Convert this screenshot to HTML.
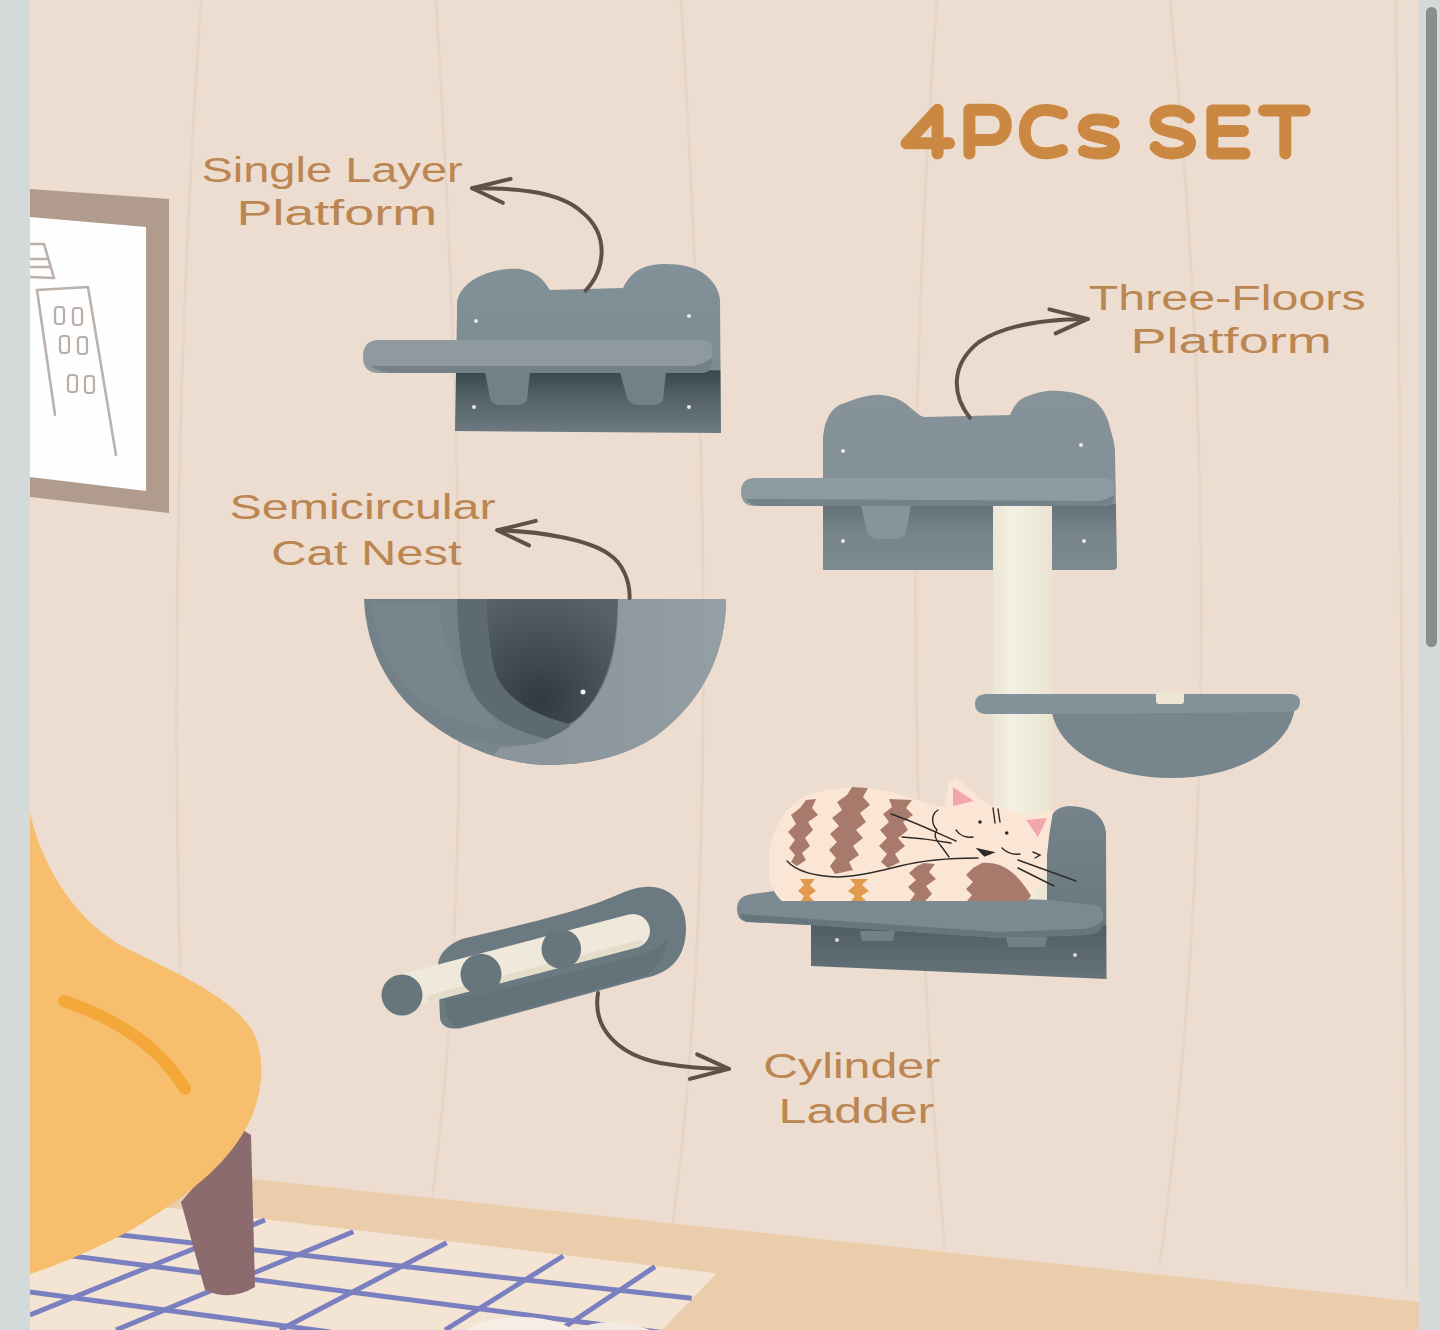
<!DOCTYPE html>
<html>
<head>
<meta charset="utf-8">
<style>
html,body{margin:0;padding:0;width:1440px;height:1330px;overflow:hidden;background:#d3dad9;}
svg{display:block;position:absolute;left:0;top:0;}
text{font-family:"Liberation Sans",sans-serif;}
</style>
</head>
<body>
<svg width="1440" height="1330" viewBox="0 0 1440 1330">
<defs>
<clipPath id="nestClip"><path d="M364 599 L726 599 C726 650 705 700 656 736 C620 760 580 765 544 765 C500 763 455 745 420 715 C390 690 366 650 364 599 Z"/></clipPath>
<radialGradient id="nestDark" cx="540" cy="700" r="110" gradientUnits="userSpaceOnUse">
<stop offset="0" stop-color="#323a40"/><stop offset="0.5" stop-color="#444e55"/><stop offset="1" stop-color="#566168"/>
</radialGradient>
<linearGradient id="sisal" x1="0" x2="1" y1="0" y2="0">
<stop offset="0" stop-color="#ebe6d5"/><stop offset="0.35" stop-color="#f4f0e4"/><stop offset="1" stop-color="#e9e3d0"/>
</linearGradient>
<linearGradient id="panelTop2" x1="0" x2="0" y1="390" y2="570" gradientUnits="userSpaceOnUse">
<stop offset="0" stop-color="#87939a"/><stop offset="0.63" stop-color="#838f96"/><stop offset="0.64" stop-color="#657178"/><stop offset="0.8" stop-color="#78848b"/><stop offset="1" stop-color="#7e8a91"/>
</linearGradient>
<linearGradient id="panelBot" x1="0" x2="0" y1="806" y2="979" gradientUnits="userSpaceOnUse">
<stop offset="0" stop-color="#76838a"/><stop offset="0.685" stop-color="#6a777e"/><stop offset="0.69" stop-color="#515d64"/><stop offset="1" stop-color="#67737a"/>
</linearGradient>
<linearGradient id="panelTop1" x1="0" x2="0" y1="264" y2="434" gradientUnits="userSpaceOnUse">
<stop offset="0" stop-color="#829097"/><stop offset="0.62" stop-color="#7d8b92"/><stop offset="0.63" stop-color="#3a474e"/><stop offset="0.8" stop-color="#566369"/><stop offset="1" stop-color="#6e7b82"/>
</linearGradient>
<linearGradient id="rimGrad" x1="540" x2="730" y1="0" y2="0" gradientUnits="userSpaceOnUse">
<stop offset="0" stop-color="#8a969c"/><stop offset="0.6" stop-color="#8f9ba1"/><stop offset="1" stop-color="#95a0a6"/>
</linearGradient>
<clipPath id="main"><rect x="30" y="0" width="1389" height="1330"/></clipPath>
</defs>
<!-- side bars -->
<rect x="0" y="0" width="1440" height="1330" fill="#d3dad9"/>
<g clip-path="url(#main)">
<!-- wall -->
<rect x="30" y="0" width="1389" height="1330" fill="#ecddd0"/>
<!-- wall lines -->
<g stroke="#e2cebd" stroke-width="2.5" fill="none" opacity="0.55">
<path d="M201 0 Q160 600 188 1180"/>
<path d="M436 0 Q485 800 432 1200"/>
<path d="M681 0 Q730 800 672 1230"/>
<path d="M937 0 Q890 640 945 1250"/>
<path d="M1170 0 Q1237 680 1160 1265"/>
<path d="M1396 0 L1407 1290"/>
</g>
<!-- picture frame -->
<polygon points="30,189 169,199 169,513 30,497" fill="#b09b8d"/>
<polygon points="30,217 146,227 146,491 30,477" fill="#fefefe"/>
<g stroke="#bcb1ab" stroke-width="2.6" fill="none" stroke-linecap="round" stroke-linejoin="round">
<path d="M30 244 L44 244 L54 278"/>
<path d="M30 259 L48 259"/>
<path d="M30 267 L50 267"/>
<path d="M30 277 L54 278"/>
<path d="M37 290 L88 287 L116 455"/>
<path d="M37 290 L55 415"/>
</g>
<g stroke="#b9aea8" stroke-width="2.2" fill="none">
<rect x="55" y="307" width="9" height="17" rx="3"/>
<rect x="73" y="308" width="9" height="17" rx="3"/>
<rect x="60" y="336" width="9" height="17" rx="3"/>
<rect x="78" y="337" width="9" height="17" rx="3"/>
<rect x="68" y="375" width="9" height="17" rx="3"/>
<rect x="85" y="376" width="9" height="17" rx="3"/>
</g>
<!-- floor -->
<polygon points="252,1179 1419,1302 1419,1330 30,1330 30,1160" fill="#ebcdab"/>
<!-- rug -->
<polygon points="30,1191 256.7,1218.3 716.7,1273.3 662,1330 30,1330" fill="#f4e4d4"/>
<g stroke="#7a7fc0" stroke-width="5" fill="none" stroke-linecap="butt">
<path d="M30 1225 L691.7 1298.3"/>
<path d="M30 1250.5 L720 1340"/>
<path d="M30 1292 L330 1332"/>
<path d="M265 1220 L30 1315"/>
<path d="M353.3 1231.7 L116 1330"/>
<path d="M446.7 1242.7 L280 1330"/>
<path d="M563.3 1256 L445 1330"/>
<path d="M655 1266.7 L560 1330"/>
</g>
<ellipse cx="520" cy="1348" rx="66" ry="31" fill="#f6eee5"/>
<ellipse cx="612" cy="1348" rx="52" ry="26" fill="#f3ebe2"/>
<!-- ===== Single layer platform ===== -->
<g id="single">
<path d="M457 313 L457 302 C459 290 470 278 491 272 C502 269 512 268 520 269 C532 271 540 276 545 283 L550 290 L623 288 C628 278 634 270 648 266 C665 262 690 264 703 273 C714 281 719 290 720 300 L721 433 L455 431 Z" fill="url(#panelTop1)"/>
<circle cx="476" cy="321" r="2" fill="#e8e8e8"/>
<circle cx="689" cy="316" r="2" fill="#e8e8e8"/>
<circle cx="474" cy="407" r="2" fill="#e8e8e8"/>
<circle cx="689" cy="407" r="2" fill="#e8e8e8"/>
<path d="M485 372 L530 372 L527 400 Q525 405 515 405 L500 405 Q492 405 490 398 Z" fill="#748087"/>
<path d="M620 372 L666 372 L663 400 Q661 405 651 405 L638 405 Q630 405 627 398 Z" fill="#748087"/>
<path d="M379 340 L703 340 Q712 340 712 350 L712 362 Q712 373 700 373 L379 373 Q363 373 363 357 Q363 340 379 340 Z" fill="#8e9aa0"/>
<path d="M370 366 Q380 373 395 373 L700 373 Q712 373 712 362 L712 358 Q700 366 690 366 Z" fill="#758188"/>
</g>
<!-- ===== Semicircular nest ===== -->
<g id="nest">
<path d="M364 599 L726 599 C726 650 705 700 656 736 C620 760 580 765 544 765 C500 763 455 745 420 715 C390 690 366 650 364 599 Z" fill="#758188"/>
<g clip-path="url(#nestClip)">
<path d="M372 603 C376 650 400 690 440 712 C460 722 480 728 500 730 L470 690 C450 660 440 630 438 603 Z" fill="#7b878e" opacity="0.7"/>
<path d="M400 720 C440 740 500 748 560 745 L580 760 L420 760 Z" fill="#7a868d"/>
<path d="M457 597 L486 597 C487 625 489 645 494 665 C502 690 525 710 569 724 L569 742 C530 738 500 725 482 705 C464 685 458 650 457 597 Z" fill="#5e6a71"/>
<path d="M486 597 L618 597 C617 640 612 670 594 699 C585 712 577 720 569 724 C530 714 506 697 496 675 C490 655 487 625 486 597 Z" fill="url(#nestDark)"/>
<path d="M618 597 L730 597 L730 770 L540 770 L540 742 C556 736 570 728 582 716 C602 695 613 668 616 640 C618 625 618 610 618 597 Z" fill="url(#rimGrad)"/>
<path d="M500 748 C520 746 535 744 545 741 L560 770 L480 770 Z" fill="#8a969c"/>
</g>
<circle cx="583" cy="692" r="2.5" fill="#eef0f0"/>
</g>
<!-- ===== Three floors ===== -->
<g id="three">
<!-- sisal post -->
<rect x="993" y="500" width="59" height="420" fill="url(#sisal)"/>
<!-- top panel -->
<path d="M823 437 C825 418 832 406 845 403 C858 398 870 394 881 395 C895 396 905 402 912 409 C917 413 920 416 924 417 L1010 415 C1014 405 1020 398 1028 396 C1040 391 1050 390 1060 391 C1075 392 1088 396 1096 402 C1104 410 1108 418 1110 428 C1113 438 1115 445 1115 452 L1117 566 Q1117 570 1113 570 L823 570 Z" fill="url(#panelTop2)"/>
<rect x="993" y="505" width="59" height="70" fill="url(#sisal)"/>
<circle cx="843" cy="451" r="2" fill="#e8e8e8"/>
<circle cx="1081" cy="445" r="2" fill="#e8e8e8"/>
<circle cx="843" cy="541" r="2" fill="#e8e8e8"/>
<circle cx="1084" cy="541" r="2" fill="#e8e8e8"/>
<path d="M861 505 L911 505 L906 532 Q904 539 894 539 L880 539 Q870 539 867 532 Z" fill="#86949b"/>
<path d="M755 478 L1105 478 Q1114 478 1114 487 L1114 497 Q1114 506 1104 506 L755 506 Q741 506 741 492 Q741 478 755 478 Z" fill="#8d9aa0"/>
<path d="M745 499 Q752 506 760 506 L1104 506 Q1114 506 1114 497 L1114 495 Q1105 501 1095 501 Z" fill="#748289"/>
<!-- middle hammock -->
<path d="M1051 705 L1295 705 C1293 745 1240 778 1172 778 C1100 778 1053 745 1051 705 Z" fill="#77858c"/>
<path d="M987 694 L1290 694 Q1300 694 1300 702 Q1300 712 1288 712 L1051 714 L987 714 Q975 714 975 704 Q975 694 987 694 Z" fill="#849299"/>
<rect x="1156" y="692" width="28" height="12" rx="3" fill="#ece6d2"/>
<!-- bottom platform -->
<path d="M1047 835 Q1047 808 1068 806 Q1102 806 1106 832 L1106.5 979 L811 966 L811 925 L1047 925 Z" fill="url(#panelBot)"/>
<path d="M752 894 L784 889.8 L1049 900 L1095 905 Q1103 906 1103 914 L1103 924 Q1100 935 1085 935 L1000 938 L811 925 L746 922 Q737 920 737 909 Q737 896 752 894 Z" fill="#7b8990"/>
<path d="M740 914 Q742 922 750 922 L811 925 L1000 938 L1085 935 Q1100 935 1103 924 L1103 920 Q1095 929 1080 929 L1000 932 L811 919 Z" fill="#67757c"/>
<path d="M860 931 L895 931 L893 941 L862 941 Z" fill="#728087"/>
<path d="M1006 937 L1047 937 L1045 947 L1008 947 Z" fill="#728087"/>
<circle cx="837" cy="940" r="2" fill="#d8d8d8"/>
<circle cx="1075" cy="955" r="2" fill="#d8d8d8"/>
</g>

<!-- ===== Cat ===== -->
<g id="cat">
<path d="M769 863 C768 850 771 838 776 828 C782 815 792 803 806 796 C818 791 835 788 853 787 C870 787 890 791 904 796 C918 800 930 805 944 807 L949 783 L956 778 C965 784 974 791 980 799 C988 804 994 806 1000 807 C1010 810 1020 814 1026 815 C1035 813 1045 811 1053 811 C1052 820 1050 828 1049 837 C1048 846 1047 855 1046 863 C1044 873 1041 880 1038 886 C1034 893 1030 898 1027 901 L782 901 C776 896 771 887 769 878 Z" fill="#fbe6d6"/>
<g fill="#a87a6c">
<path d="M806 800 L816 799 L812 808 L818 815 L808 822 L813 830 L805 838 L810 846 L802 853 L806 860 L797 866 L791 862 L795 855 L789 848 L795 840 L788 832 L796 824 L791 815 L800 808 Z"/>
<path d="M852 787 L868 788 L863 797 L870 805 L860 813 L866 822 L856 830 L863 838 L853 846 L859 855 L849 862 L853 870 L835 874 L830 866 L836 858 L829 850 L837 842 L830 834 L839 826 L832 818 L842 810 L837 802 L847 795 Z"/>
<path d="M889 799 L912 800 L906 808 L913 815 L903 822 L908 830 L898 838 L905 846 L895 854 L900 862 L888 868 L881 862 L887 854 L879 846 L887 838 L880 830 L889 822 L883 814 L892 807 Z"/>
<path d="M924 863 L935 864 L929 872 L936 879 L926 886 L932 894 L925 901 L910 901 L915 894 L908 887 L916 880 L909 873 L917 866 Z"/>
<path d="M982 863 C995 862 1005 866 1015 875 C1022 882 1028 890 1031 896 L1027 901 L967 901 L972 895 L966 889 L973 882 L966 875 L973 868 Z"/>
</g>
<g fill="#e29a4c">
<path d="M800 879 L815 879 L810 885 L816 891 L809 896 L814 901 L801 901 L804 896 L798 891 L804 885 Z"/>
<path d="M850 879 L868 879 L862 885 L869 891 L861 896 L866 901 L851 901 L855 896 L848 891 L855 885 Z"/>
</g>
<g fill="#f3a7ad">
<path d="M953 787 L974 801 L953 806 Z"/>
<path d="M1026 820 L1047 818 L1038 837 Z"/>
</g>
<g stroke="#2e2a28" stroke-width="1.4" fill="none" stroke-linecap="round">
<path d="M787 861 C795 870 810 876 838 877 C860 876 880 871 900 866 C920 861 940 858 978 858"/>
<path d="M891 814 C915 822 935 832 956 841"/>
<path d="M902 837 C920 838 935 840 951 843"/>
<path d="M938 810 C930 815 932 825 937 830 C933 835 936 840 941 846 C944 850 947 854 949 857"/>
<path d="M956 830 C960 836 967 838 973 837"/>
<path d="M1002 848 C1007 853 1014 855 1020 854"/>
<path d="M1018 860 L1076 881"/>
<path d="M1018 868 L1054 886"/>
<path d="M993 808 L995 823"/>
<path d="M998 809 L1000 822"/>
<path d="M1033 852 L1040 855 L1035 858"/>
</g>
<circle cx="980" cy="822" r="1.8" fill="#2e2a28"/>
<circle cx="1006.7" cy="833" r="1.8" fill="#2e2a28"/>
<path d="M975.6 847.8 L995.6 852.2 L984.4 856.7 Z" fill="#2e2a28"/>
</g>

<!-- ===== Ladder ===== -->
<g id="ladder">
<path d="M440 1018 L438 968 C437 955 447 945 462 939 C520 925 580 912 622 893 C660 876 686 895 686 928 C686 958 670 973 645 978 L462 1028 C450 1030 441 1027 440 1018 Z" fill="#6b7981"/>
<path d="M445 1000 C500 990 560 975 600 965 C630 958 655 952 668 940 C665 960 655 972 640 977 L462 1026 C452 1028 446 1020 445 1000 Z" fill="#616f77" opacity="0.7"/>
<path d="M404 991 L633 931" stroke="#eee9da" stroke-width="34" stroke-linecap="round" fill="none"/>
<path d="M430 998 L640 943" stroke="#ddd5bf" stroke-width="6" stroke-linecap="round" fill="none" opacity="0.6"/>
<circle cx="402" cy="995" r="20.5" fill="#67757d"/>
<circle cx="481" cy="974.3" r="20.5" fill="#67757d"/>
<circle cx="561.3" cy="949" r="19.8" fill="#67757d"/>
</g>


<!-- ===== Text ===== -->
<g fill="#bb8651" font-size="35.5">
<text x="201.4" y="182" textLength="261.4" lengthAdjust="spacingAndGlyphs">Single Layer</text>
<text x="236.4" y="224.8" textLength="200.9" lengthAdjust="spacingAndGlyphs">Platform</text>
<text x="229.6" y="518.9" textLength="266" lengthAdjust="spacingAndGlyphs">Semicircular</text>
<text x="271.2" y="564.6" textLength="190.4" lengthAdjust="spacingAndGlyphs">Cat Nest</text>
<text x="1088.8" y="309.6" textLength="276.8" lengthAdjust="spacingAndGlyphs">Three-Floors</text>
<text x="1130.4" y="353.3" textLength="201.4" lengthAdjust="spacingAndGlyphs">Platform</text>
<text x="763.2" y="1077.5" textLength="177" lengthAdjust="spacingAndGlyphs">Cylinder</text>
<text x="778.6" y="1123.3" textLength="155.6" lengthAdjust="spacingAndGlyphs">Ladder</text>
</g>
<g stroke="#cb8842" stroke-width="12" fill="none" stroke-linecap="round" stroke-linejoin="round">
<path d="M937.5 153.5 L937.5 109.8 L906.5 143.3 L949 143.3"/>
<path d="M969.4 153.5 L969.4 109.8 L990 109.8 C1000 109.8 1005.8 115.5 1005.8 125 C1005.8 134.5 1000 140 990 140 L970 140"/>
<path d="M1062 113.5 C1056 110.8 1051 109.9 1045.5 109.9 C1032 109.9 1024.8 119 1024.8 131.5 C1024.8 144 1032 153.2 1045.5 153.2 C1051 153.2 1056 152.5 1062 150"/>
<path d="M1113.5 122.5 C1108 120 1102 119.5 1097 119.5 C1088.5 119.5 1083.8 123 1083.8 128 C1083.8 133 1088 135 1098 137 C1109 139 1114 141.5 1114 146.5 C1114 151 1108 153.5 1099 153.5 C1093 153.5 1088 153 1084 151"/>
<path d="M1189 117.5 C1185 112.5 1179 110.4 1172 110.4 C1162 110.4 1155.5 115 1155.5 121 C1155.5 128 1162 130 1172 132 C1183 134 1190 137 1190 143 C1190 149.5 1183 153.4 1172 153.4 C1164 153.4 1158.5 151 1155.5 147"/>
<path d="M1244.5 110.4 L1212.3 110.4 L1212.3 153.4 L1244.5 153.4 M1212.3 131 L1243 131"/>
<path d="M1264 110.4 L1304.6 110.4 M1285.3 110.4 L1285.3 153.4"/>
</g>
<!-- ===== Arrows ===== -->
<g stroke="#5f5147" stroke-width="4" fill="none" stroke-linecap="round" stroke-linejoin="round">
<path d="M585.6 290.6 C605 270 610 235 582.2 212.2 C560 192 520 188 472.2 188.3"/>
<path d="M510.6 178.9 L472.2 188.3 L502.8 202.8"/>
<path d="M629.6 598 C630 580 622 563 609.8 554.8 C590 540 540 531 497.3 530.3"/>
<path d="M535.8 520.9 L497.3 530.3 L529 545.4"/>
<path d="M970 418 C952 395 950 365 979 342 C1005 325 1045 319 1087.8 318.9"/>
<path d="M1049.4 309.4 L1087.8 318.9 L1055.6 333.3"/>
<path d="M598 993 C592 1030 620 1055 660 1063 C690 1068 710 1069 728.9 1068.9"/>
<path d="M697.2 1054.4 L728.9 1068.9 L690 1078.9"/>
</g>

<!-- chair leg -->
<path d="M243 1130 L181 1202 L205 1290 Q230 1302 255 1287 L251 1135 Z" fill="#8b6b6d"/>
<!-- chair -->
<path d="M30 812 C40 860 70 915 120 945 C170 970 230 995 252 1030 C268 1060 262 1100 245 1130 C225 1165 190 1195 131 1230 C90 1252 50 1268 30 1274 Z" fill="#f7be6e"/>
<path d="M64 1001 Q150 1030 185 1089" stroke="#f5a83a" stroke-width="12" stroke-linecap="round" fill="none"/>
</g>
<!-- scrollbar -->
<rect x="1426" y="7" width="11" height="640" rx="5.5" fill="#8a8c8d"/>
</svg>
</body>
</html>
